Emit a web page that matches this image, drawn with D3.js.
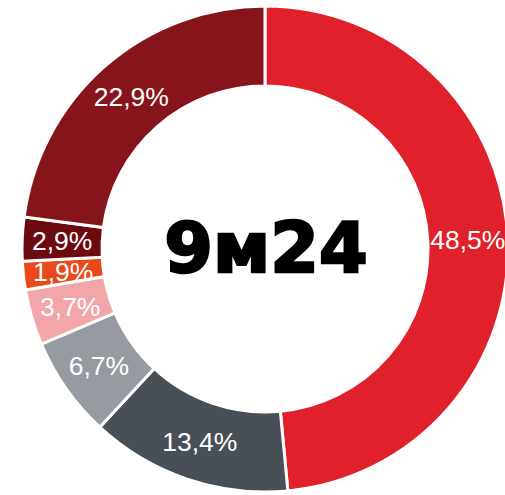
<!DOCTYPE html>
<html>
<head>
<meta charset="utf-8">
<script src="https://cdn.jsdelivr.net/npm/d3@7"></script>
<style>
  body { margin: 0; background: #fff; }
  .slice-label { font-family: "Liberation Sans", Arial, sans-serif; font-size: 26.5px; fill: #fff; }
  .center-label { font-family: "DejaVu Sans", sans-serif; font-weight: bold; font-size: 70px; fill: #000; stroke: #000; stroke-width: 2.5px; }
</style>
</head>
<body>
<svg id="chart"></svg>
<script>
var width = 505, height = 495;

// data, clockwise from 12 o'clock
var labels = ["48,5%", "13,4%", "6,7%", "3,7%", "1,9%", "2,9%", "22,9%"];
var shares = [48.5, 13.4, 6.7, 3.7, 1.9, 2.9, 22.9];
var colors = ["#e0202a", "#494f56", "#979aa0", "#f2a6a9", "#e84a1c", "#6d0a0f", "#86141b"];
var title = "9м24";

var svg = d3.select("#chart")
    .attr("width", width)
    .attr("height", height);

var cx = 265, cy = 249;
var outerR = 243, innerR = 163;

var pie = d3.pie().sort(null).value(d => d);
var arc = d3.arc().innerRadius(innerR).outerRadius(outerR);
var labelArc = d3.arc().innerRadius(203).outerRadius(203);

var g = svg.append("g")
    .attr("transform", `translate(${cx},${cy})`);

var arcs = pie(shares);

g.selectAll("path")
    .data(arcs)
    .enter()
    .append("path")
    .attr("d", arc)
    .attr("fill", (d, i) => colors[i])
    .attr("stroke", "#fff")
    .attr("stroke-width", 3);

g.selectAll("text.slice-label")
    .data(arcs)
    .enter()
    .append("text")
    .attr("class", "slice-label")
    .attr("text-anchor", "middle")
    .attr("dy", "0.35em")
    .attr("transform", d => `translate(${labelArc.centroid(d)})`)
    .text((d, i) => labels[i]);

g.append("text")
    .attr("class", "center-label")
    .attr("text-anchor", "middle")
    .attr("x", 1)
    .attr("y", 23)
    .text(title);
</script>
</body>
</html>
